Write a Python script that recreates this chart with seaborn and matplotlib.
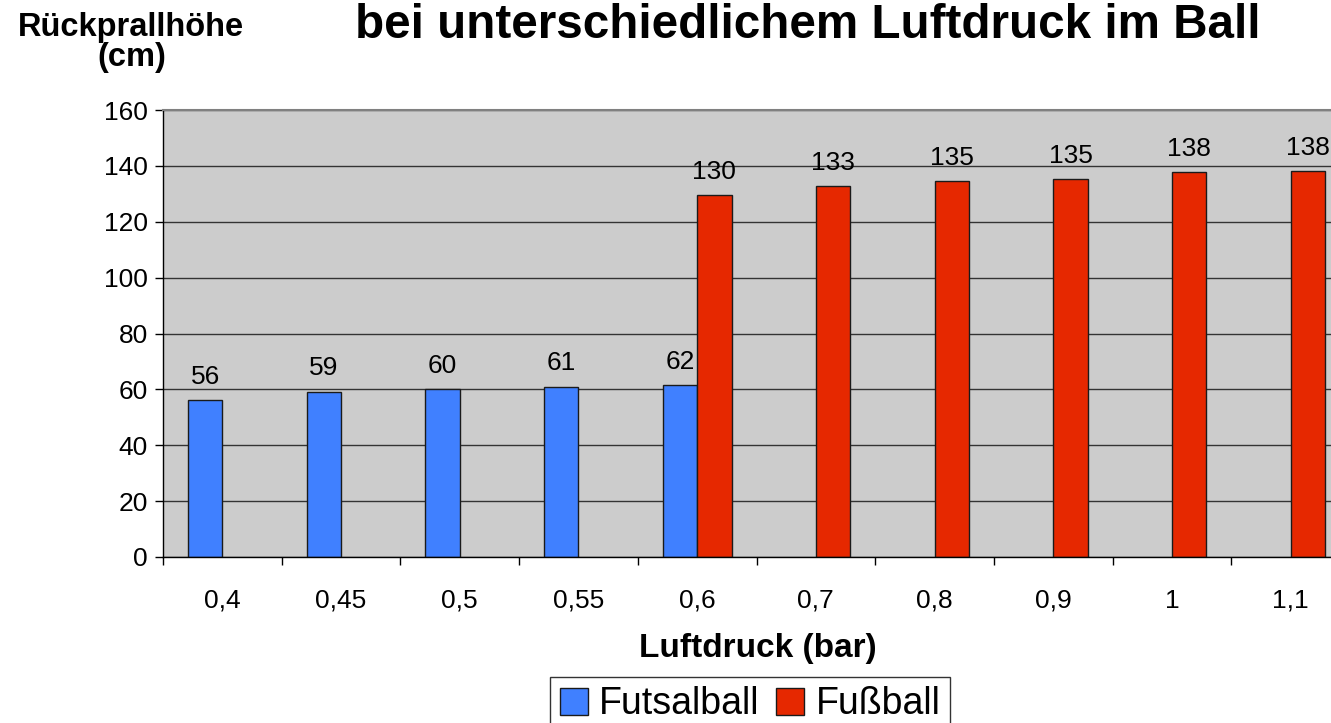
import numpy as np
import pandas as pd
import matplotlib.pyplot as plt
import seaborn as sns
from matplotlib.patches import Patch

# Data
druck = ['0,4', '0,45', '0,5', '0,55', '0,6', '0,7', '0,8', '0,9', '1', '1,1']
futsal_druck = ['0,4', '0,45', '0,5', '0,55', '0,6']
futsal_hoehe = [56.1, 59.2, 60.2, 61.0, 61.6]
fussball_druck = ['0,6', '0,7', '0,8', '0,9', '1', '1,1']
fussball_hoehe = [129.7, 132.8, 134.7, 135.4, 137.8, 138.3]
baelle = ['Futsalball', 'Fußball']
farben = ['#4080FF', '#E62800']

df = pd.concat([
    pd.DataFrame({'Luftdruck': futsal_druck, 'Ball': baelle[0], 'Hoehe': futsal_hoehe}),
    pd.DataFrame({'Luftdruck': fussball_druck, 'Ball': baelle[1], 'Hoehe': fussball_hoehe}),
], ignore_index=True)

sns.set_theme(style='white')
plt.rcParams['font.family'] = ['Liberation Sans', 'DejaVu Sans']
plt.rcParams['text.color'] = 'black'
plt.rcParams['xtick.color'] = 'black'
plt.rcParams['ytick.color'] = 'black'
plt.rcParams['axes.labelcolor'] = 'black'

W, H = 1331, 723
fig = plt.figure(figsize=(W / 100, H / 100), dpi=100)
ax = fig.add_axes([163 / W, 1 - 557 / H, (1350 - 163) / W, (557 - 110) / H])
ax.set_facecolor('#CCCCCC')

sns.barplot(data=df, x='Luftdruck', y='Hoehe', hue='Ball', order=druck,
            hue_order=baelle, palette=farben, width=0.58, dodge=True,
            edgecolor='#1a1a1a', linewidth=1, saturation=1, legend=False, ax=ax)

for cont in ax.containers:
    ax.bar_label(cont, fmt='%.0f', padding=8, fontsize=19)

# y axis
ax.set_ylim(0, 160)
ax.set_yticks(np.arange(0, 161, 20))
ax.yaxis.grid(True, color='#333333', linewidth=1)
ax.set_axisbelow(True)
ax.tick_params(axis='y', length=6, width=1, color='black', left=True,
               labelsize=19, pad=5, direction='out')

# x axis: labels centered, tick marks at category boundaries
ax.set_xlim(-0.5, len(druck) - 0.5)
ax.set_xticks(np.arange(-0.5, len(druck), 1), minor=True)
ax.tick_params(axis='x', which='major', length=0, labelsize=19, pad=23)
ax.tick_params(axis='x', which='minor', length=6, width=1, color='black',
               bottom=True, direction='out')
ax.set_xlabel('')
ax.set_ylabel('')

for s in ['left', 'bottom']:
    ax.spines[s].set_color('black')
    ax.spines[s].set_linewidth(1)
ax.spines['top'].set_color('#808080')
ax.spines['top'].set_linewidth(1.5)
ax.spines['right'].set_color('#808080')

# texts
fig.text(808 / W, 1 - 38 / H, 'bei unterschiedlichem Luftdruck im Ball',
         ha='center', va='baseline', fontsize=34.3, fontweight='bold')
fig.text(131 / W, 1 - 36 / H, 'Rückprallhöhe', ha='center', va='baseline',
         fontsize=23.5, fontweight='bold')
fig.text(132 / W, 1 - 66 / H, '(cm)', ha='center', va='baseline',
         fontsize=23.5, fontweight='bold')
fig.text(758 / W, 1 - 648 / H, 'Luftdruck (bar)', ha='center', va='center',
         fontsize=24, fontweight='bold')

handles = [Patch(facecolor=c, edgecolor='#1a1a1a', linewidth=1) for c in farben]
leg = fig.legend(handles, baelle, loc='upper center', bbox_to_anchor=(750 / W, 1 - 677 / H),
                 ncol=2, fontsize=27, frameon=True, fancybox=False, borderpad=0.25,
                 handlelength=0.75, handleheight=0.75, handletextpad=0.3,
                 columnspacing=0.45, borderaxespad=0)
leg.get_frame().set_edgecolor('black')
leg.get_frame().set_linewidth(1)

fig.savefig('out.png', dpi=100)
